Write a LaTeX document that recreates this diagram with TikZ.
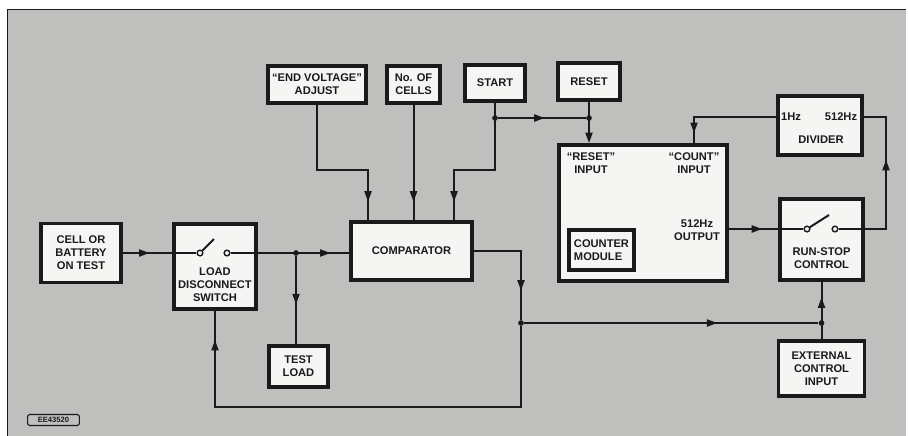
\documentclass[tikz,border=0pt]{standalone}
\usepackage{fontspec}
\setmainfont{Liberation Sans}
\usetikzlibrary{arrows.meta, decorations.markings}
\definecolor{ink}{HTML}{1A1A1A}
\definecolor{paper}{HTML}{F5F5F3}
\definecolor{panel}{HTML}{BFBFBD}

\tikzset{
  blk/.style={draw=ink, fill=paper, line width=3.3pt, align=center, inner sep=2pt,
    text=ink, font=\fontsize{9.5pt}{11pt}\selectfont\bfseries},
  lbl/.style={align=center, text=ink, inner sep=1pt, font=\fontsize{9.5pt}{11pt}\selectfont\bfseries},
  wire/.style={draw, color=ink, line width=1.7pt},
  arr/.style={postaction={decorate}, decoration={markings,
    mark=at position #1 with {\arrow{Triangle[length=9pt, width=6pt]}}}},
  endarr/.style={-{Triangle[length=9pt, width=6pt]}},
  dot/.style={circle, fill=ink, inner sep=0pt, minimum size=0.17cm},
  contact/.style={circle, draw=ink, fill=paper, line width=1.2pt, inner sep=0pt, minimum size=0.17cm},
}

\begin{document}
\begin{tikzpicture}[x=0.03cm, y=-0.03cm]
  \useasboundingbox (0,0) rectangle (908,435);
  \fill[panel] (7,9) rectangle (906,436);
  \draw[ink, line width=0.8pt] (7,436) -- (7,9) -- (906,9);

  % blocks
  \node[blk, minimum width=2.4cm, minimum height=1.77cm] (cell) at (81,253) {CELL OR\\BATTERY\\ON TEST};
  \node[blk, minimum width=2.46cm, minimum height=2.55cm] (lds) at (215,266.5) {};
  \node[lbl] (ldslbl) at (215,285) {LOAD\\DISCONNECT\\SWITCH};
  \node[blk, minimum width=1.77cm, minimum height=1.23cm] (tload) at (298.5,366.5) {TEST\\LOAD};
  \node[blk, minimum width=3.63cm, minimum height=1.74cm] (comp) at (411.5,251) {COMPARATOR};
  \node[blk, minimum width=2.94cm, minimum height=1.11cm] (endv) at (317,84.5) {``END VOLTAGE''\\ADJUST};
  \node[blk, minimum width=1.59cm, minimum height=1.11cm] (ncells) at (413.5,84.5) {No. OF\\CELLS};
  \node[blk, minimum width=1.8cm, minimum height=1.08cm] (start) at (495,83) {START};
  \node[blk, minimum width=1.86cm, minimum height=1.11cm] (reset) at (589,81.5) {RESET};

  % counter module
  \node[blk, minimum width=5.04cm, minimum height=4.08cm] (counter) at (643,213) {};
  \node[blk, align=left, minimum width=1.95cm, minimum height=1.2cm] (cmod) at (601.5,250) {COUNTER\\MODULE};
  \node[lbl] (rstin) at (591,163) {``RESET''\\INPUT};
  \node[lbl] (cntin) at (694,163) {``COUNT''\\INPUT};
  \node[lbl] (outlbl) at (697,230) {512Hz\\OUTPUT};

  % divider, run-stop, external control
  \node[blk, minimum width=2.52cm, minimum height=1.77cm] (divider) at (820,125.5) {};
  \node[lbl] (hz1) at (791,117) {1Hz};
  \node[lbl] (hz512) at (841,117) {512Hz};
  \node[lbl] (divlbl) at (821,140) {DIVIDER};
  \node[blk, minimum width=2.49cm, minimum height=2.43cm] (runstop) at (821.5,239.5) {};
  \node[lbl] (rslbl) at (821.5,258) {RUN-STOP\\CONTROL};
  \node[blk, minimum width=2.58cm, minimum height=1.65cm] (extctl) at (821.5,368.5) {EXTERNAL\\CONTROL\\INPUT};

  \node[draw=ink, rounded corners=1.5pt, line width=0.9pt, inner sep=1pt, text=ink,
        font=\fontsize{6.5pt}{7pt}\selectfont\bfseries, minimum width=1.55cm, minimum height=0.33cm] (tag) at (53.5,420) {EE43520};

  % switch contacts
  \node[contact] (ldsA) at (200,253) {};
  \node[contact] (ldsB) at (227,253) {};
  \coordinate (ldsL) at (214,239);
  \node[contact] (rsA) at (807,229) {};
  \node[contact] (rsB) at (835,229) {};
  \coordinate (rsL) at (829,215);

  % junctions and bends
  \node[dot] (j1) at (296,253) {};
  \node[dot] (j2) at (495,118) {};
  \node[dot] (j3) at (589,118) {};
  \node[dot] (j4) at (521,323) {};
  \node[dot] (j5) at (821.5,323) {};
  \coordinate (ev) at (368,170);
  \coordinate (st) at (454,170);
  \coordinate (fb) at (521,407);
  \coordinate (rsC) at (886,229);

  % connectors
  \draw[wire, arr=0.8cm] (cell.east) -- (ldsA);
  \draw[wire] (ldsA) -- (ldsL);
  \draw[wire, arr=3cm] (ldsB) -- (ldsB -| comp.west);
  \draw[wire, arr=1.45cm] (j1) -- (j1 |- tload.north);
  \draw[wire, arr=-0.55cm] (endv.south) |- (ev) -- (ev |- comp.north);
  \draw[wire, arr=-0.55cm] (ncells.south) -- (ncells.south |- comp.north);
  \draw[wire, arr=-0.55cm] (start.south) |- (st) -- (st |- comp.north);
  \draw[wire, arr=1.4cm] (j2) -- (j3);
  \draw[wire, endarr] (reset.south) -- (reset.south |- counter.north);
  \draw[wire, arr=-0.3cm] (divider.west |- hz1) -| (counter.north -| cntin);
  \draw[wire, arr=1cm] (counter.east |- rsA) -- (rsA);
  \draw[wire] (rsA) -- (rsL);
  \draw[wire, arr=3.5cm] (rsB) -- (rsC) |- (divider.east |- hz512);
  \draw[wire, arr=2.6cm] (comp.east) -| (j4);
  \draw[wire, arr=-0.87cm] (j4) -- (fb) -| (lds.south);
  \draw[wire, arr=5.8cm] (j4) -- (j5);
  \draw[wire, arr=1.25cm] (extctl.north) -- (runstop.south);
\end{tikzpicture}
\end{document}
